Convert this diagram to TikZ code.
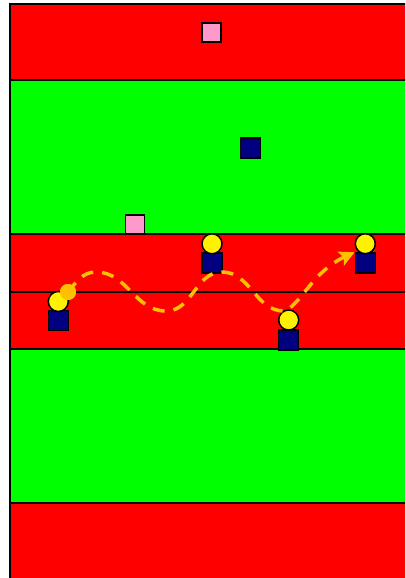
\documentclass[tikz,border=0pt]{standalone}
\usetikzlibrary{arrows.meta}
\definecolor{fieldred}{HTML}{FF0000}
\definecolor{fieldgreen}{HTML}{00FF00}
\definecolor{navy}{HTML}{000080}
\definecolor{pinkcone}{HTML}{FF99CC}
\definecolor{ballgold}{HTML}{FFC000}
\tikzset{
  band/.style={draw=black,line width=2pt},
  cone/.style={rectangle,draw=black,line width=1.5pt,fill=pinkcone,minimum size=19pt,inner sep=0pt},
  body/.style={rectangle,draw=black,line width=1.5pt,fill=navy,minimum size=20pt,inner sep=0pt},
  head/.style={circle,draw=black,line width=1.5pt,fill=yellow,minimum size=20pt,inner sep=0pt},
  ballnode/.style={circle,fill=ballgold,minimum size=16pt,inner sep=0pt},
  dribble/.style={draw=ballgold,line width=3.5pt,dash pattern=on 12pt off 9pt,-{Stealth[length=15pt,width=15pt,inset=3pt]}}
}
\begin{document}
\begin{tikzpicture}[x=1pt,y=-1pt]
\useasboundingbox (0,0) rectangle (405,578);
\clip (0,0) rectangle (405,578);
% field bands
\fill[fieldred] (10,4) rectangle (420,80);
\fill[fieldgreen] (10,80) rectangle (420,234);
\fill[fieldred] (10,234) rectangle (420,349);
\fill[fieldgreen] (10,349) rectangle (420,503);
\fill[fieldred] (10,503) rectangle (420,590);
\draw[band] (420,4) -- (10,4) -- (10,590);
\draw[band] (10,80) -- (420,80);
\draw[band] (10,234) -- (420,234);
\draw[draw=black,line width=1.5pt] (10,292) -- (420,292);
\draw[band] (10,349) -- (420,349);
\draw[band] (10,503) -- (420,503);
% cones and defender
\node[cone] (c1) at (211.7,32.7) {};
\node[cone] (c2) at (135,224.5) {};
\node[body] (d1) at (250.3,148) {};
% players
\node[body] (b1) at (58.3,320.3) {};
\node[head] (h1) at (58.3,301.5) {};
\node[body] (b2) at (212,263) {};
\node[head] (h2) at (212,243.8) {};
\node[body] (b3) at (288.7,340) {};
\node[head] (h3) at (288.7,320) {};
\node[body] (b4) at (365.3,263) {};
\node[head] (h4) at (365.3,243.7) {};
% ball path
\coordinate (pk1) at (96,272);
\coordinate (tr1) at (166,311);
\coordinate (pk2) at (222,272);
\coordinate (tr2) at (284,311);
\node[ballnode] (ball) at (68,292) {};
\draw[dribble] (ball.center) to[out=50,in=180] (pk1) to[out=0,in=180] (tr1)
  to[out=0,in=180] (pk2) to[out=0,in=180] (tr2)
  .. controls (300,306) and (312,272) .. (b4.north west);
\node[ballnode] at (ball) {};
\end{tikzpicture}
\end{document}
